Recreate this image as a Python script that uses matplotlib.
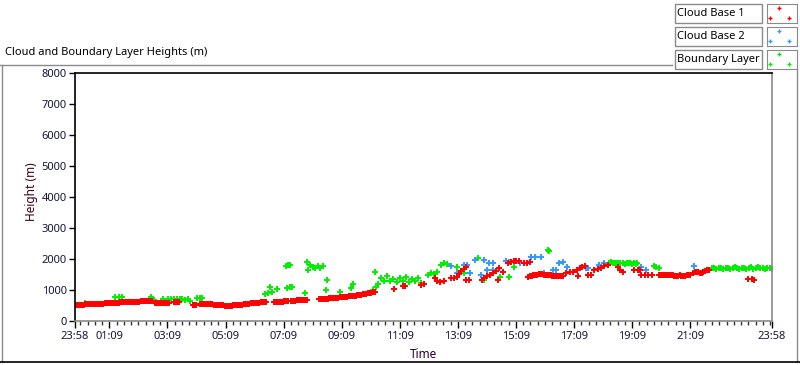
import matplotlib
matplotlib.use("Agg")
import matplotlib.pyplot as plt
from matplotlib.lines import Line2D
from matplotlib.patches import Rectangle

plt.rcParams['font.family'] = ['Noto Sans', 'DejaVu Sans']

# ---------------- data (hours after 23:58, height in m) ----------------
red_t = [0, 0.06, 0.12, 0.18, 0.24, 0.3, 0.36, 0.42, 0.48, 0.54, 0.6, 0.66, 0.72, 0.78,
         0.84, 0.9, 0.96, 1.02, 1.08, 1.14, 1.2, 1.26, 1.32, 1.38, 1.44,
         1.5, 1.56, 1.62, 1.68, 1.74, 1.8, 1.86, 1.92, 1.98, 2.04, 2.1, 2.16, 2.22,
         2.28, 2.34, 2.4, 2.46, 2.52, 2.58, 2.64,
         2.75, 2.81, 2.87, 2.93, 2.99, 3.05, 3.11, 3.17, 3.23,
         3.4, 3.46, 3.52, 3.58, 4.05, 4.11, 4.17,
         4.31, 4.37, 4.43, 4.49, 4.55, 4.61, 4.67, 4.73, 4.79, 4.85, 4.91, 4.97, 5.03,
         5.09, 5.15, 5.21, 5.27, 5.33, 5.39,
         5.45, 5.51, 5.57, 5.63, 5.69, 5.75, 5.81, 5.87, 5.93, 5.99, 6.05, 6.11, 6.17,
         6.23, 6.29, 6.35, 6.41, 6.47, 6.53, 6.59,
         6.85, 6.91, 6.97, 7.03, 7.09, 7.15, 7.21, 7.27, 7.33,
         7.45, 7.51, 7.57, 7.63, 7.69, 7.75, 7.81, 7.87, 7.93, 7.99,
         8.4, 8.46, 8.52, 8.58, 8.64, 8.7, 8.76, 8.82, 8.88, 8.94, 9.0, 9.06, 9.12,
         9.18, 9.24, 9.3, 9.36, 9.42, 9.48,
         9.54, 9.6, 9.66, 9.72, 9.78, 9.84, 9.9, 9.96, 10.02, 10.08, 10.14, 10.2,
         10.26, 10.32,
         11.0, 11.28, 11.36, 11.9, 12.0,
         12.4, 12.48, 12.58, 12.7, 12.95, 13.05, 13.15, 13.22, 13.3, 13.38, 13.46,
         13.45, 13.55, 14.0, 14.1, 14.2, 14.3, 14.4, 14.5, 14.6, 14.55, 14.75,
         14.9, 15.0, 15.1, 15.2, 15.3, 15.45, 15.55, 15.65,
         15.6, 15.66, 15.72, 15.78, 15.84, 15.9, 15.96, 16.02, 16.08, 16.14, 16.2,
         16.26, 16.32, 16.38, 16.44, 16.5, 16.56, 16.62, 16.68, 16.74, 16.8,
         16.92, 17.04, 17.16, 17.28, 17.38, 17.32, 17.45, 17.57, 17.65, 17.77,
         17.88, 18.0, 18.12, 18.22, 18.34, 18.7, 18.78, 18.86,
         19.25, 19.37, 19.47, 19.5, 19.62, 19.74, 19.86,
         20.1, 20.16, 20.22, 20.28, 20.34, 20.4, 20.46, 20.52, 20.58, 20.64, 20.7,
         20.76, 20.82, 20.88, 20.94, 21.0, 21.06, 21.12, 21.18,
         21.28, 21.34, 21.4, 21.46, 21.52, 21.58, 21.64, 21.7, 21.76, 21.82,
         23.18, 23.3, 23.38]
red_v = [520, 520, 522, 525, 528, 530, 533, 536, 540, 542, 545, 548, 552, 555,
         558, 560, 563, 565, 568, 570, 573, 575, 578, 582, 585,
         595, 600, 600, 603, 605, 608, 610, 612, 615, 618, 620, 625, 628,
         630, 632, 635, 638, 640, 645, 648,
         590, 588, 586, 584, 582, 580, 578, 577, 580,
         600, 600, 602, 605, 520, 522, 525,
         540, 540, 540, 538, 537, 535, 535, 533, 530, 528, 525, 522, 520,
         505, 500, 495, 490, 492, 495,
         505, 510, 515, 520, 525, 530, 535, 540, 548, 555, 565, 570, 575,
         580, 585, 592, 600, 605, 610, 620,
         615, 617, 620, 622, 625, 627, 630, 630, 632,
         655, 658, 660, 665, 670, 672, 675, 680, 680, 682,
         710, 712, 715, 718, 720, 725, 730, 735, 740, 745, 750, 755, 760,
         768, 775, 780, 785, 792, 800,
         805, 810, 820, 830, 840, 850, 860, 870, 880, 890, 900, 915,
         925, 935,
         1030, 1120, 1140, 1170, 1180,
         1380, 1300, 1270, 1290, 1380, 1400, 1430, 1520, 1600, 1680, 1740,
         1320, 1330, 1320, 1380, 1440, 1500, 1560, 1620, 1700, 1320, 1580,
         1870, 1900, 1920, 1940, 1940, 1880, 1860, 1900,
         1430, 1440, 1460, 1470, 1490, 1500, 1510, 1510, 1505, 1500, 1490,
         1480, 1475, 1470, 1465, 1460, 1455, 1450, 1450, 1452, 1460,
         1550, 1570, 1590, 1660, 1700, 1450, 1740, 1790, 1490, 1470,
         1650, 1680, 1710, 1780, 1800, 1740, 1660, 1580,
         1650, 1650, 1660, 1480, 1480, 1490, 1480,
         1500, 1500, 1500, 1495, 1490, 1485, 1480, 1475, 1470, 1465, 1460,
         1465, 1470, 1465, 1460, 1465, 1470, 1475, 1480,
         1560, 1565, 1570, 1565, 1560, 1550, 1590, 1610, 1630, 1650,
         1370, 1340, 1320]

blue_t = [12.94, 13.15, 13.38, 13.5, 13.6, 13.79, 13.97, 14.07, 14.2, 14.24, 14.4, 14.41,
          14.83, 14.93, 15.34, 15.55, 15.7, 15.85, 16.03, 16.14, 16.45, 16.55, 16.66,
          16.8, 16.95, 17.6, 17.66, 18.03, 18.2, 19.48, 19.65, 21.31]
blue_v = [1780, 1550, 1800, 1800, 1550, 1970, 1480, 1970, 1650, 1870, 1870, 1650,
          1950, 1900, 1880, 1880, 2070, 2080, 2060, 1550, 1650, 1650, 1860,
          1890, 1740, 1710, 1720, 1820, 1860, 1740, 1650, 1770]

green_t = [0.34, 1.38, 1.5, 1.62, 2.62, 2.72, 3.03, 3.2, 3.3, 3.4, 3.5, 3.6, 3.7, 3.8,
           3.9, 3.97, 4.2, 4.3, 4.38, 6.55, 6.65, 6.72, 6.8, 6.97, 7.28, 7.35, 7.41,
           7.3, 7.42, 7.48, 7.93, 8.0, 8.03, 8.1, 8.2, 8.28, 8.38, 8.45, 8.55, 8.69,
           8.65, 9.14, 9.5, 9.57, 10.25, 10.35, 10.34, 10.45, 10.55, 10.65, 10.75,
           10.85, 10.95, 11.1, 11.2, 11.3, 11.4, 11.5, 11.6, 11.7, 11.8, 11.9,
           12.14, 12.25, 12.35, 12.45, 12.6, 12.7, 12.8, 13.17, 13.38, 13.86, 14.07,
           14.62, 14.93, 15.1, 16.28, 16.32,
           18.4, 18.46, 18.52, 18.58, 18.64, 18.7, 18.76, 18.88, 18.94, 19.0, 19.06,
           19.12, 19.18, 19.24, 19.3, 19.36,
           19.92, 20.0, 20.1,
           21.92, 22.0, 22.08, 22.16, 22.24, 22.32, 22.4, 22.48, 22.56, 22.64, 22.72,
           22.8, 22.88, 22.96, 23.04, 23.12, 23.2, 23.28, 23.36, 23.44, 23.52, 23.6,
           23.68, 23.76, 23.84, 23.92, 24.0]
green_v = [580, 775, 775, 770, 770, 690, 710, 700, 720, 710, 700, 720, 700, 690,
           700, 650, 740, 745, 740, 860, 900, 1100, 930, 1030, 1790, 1820, 1800,
           1080, 1100, 1100, 900, 1900, 1650, 1800, 1740, 1710, 1780, 1710, 1770, 1320,
           1000, 940, 1050, 1180, 1000, 1100, 1580, 1200, 1380, 1300, 1450,
           1280, 1350, 1250, 1380, 1300, 1420, 1250, 1350, 1300, 1400, 1240,
           1500, 1560, 1520, 1580, 1820, 1880, 1850, 1740, 1550, 2030, 1320,
           1420, 1420, 1740, 2290, 2250,
           1880, 1890, 1870, 1880, 1860, 1870, 1880, 1860, 1850, 1870, 1860,
           1870, 1850, 1860, 1850, 1860,
           1780, 1740, 1720,
           1720, 1700, 1690, 1710, 1700, 1680, 1720, 1700, 1690, 1700, 1740,
           1710, 1690, 1700, 1720, 1680, 1700, 1730, 1690, 1700, 1740, 1710,
           1700, 1680, 1720, 1700, 1690]

series_names = ["Cloud Base 1", "Cloud Base 2", "Boundary Layer"]
series_colors = ["#ff0000", "#3399ff", "#00ee00"]

x_major = [0, 71/60, 71/60 + 2, 71/60 + 4, 71/60 + 6, 71/60 + 8, 71/60 + 10,
           71/60 + 12, 71/60 + 14, 71/60 + 16, 71/60 + 18, 71/60 + 20, 24]
x_labels = ["23:58", "01:09", "03:09", "05:09", "07:09", "09:09", "11:09",
            "13:09", "15:09", "17:09", "19:09", "21:09", "23:58"]
y_ticks = [0, 1000, 2000, 3000, 4000, 5000, 6000, 7000, 8000]

# ---------------- figure ----------------
W, H = 800, 365
fig = plt.figure(figsize=(W / 100, H / 100), dpi=100)
fig.patch.set_facecolor("white")


def fx(x):
    return x / W


def fy(y):
    return 1 - y / H


ax = fig.add_axes([fx(75), fy(321), fx(772 - 75), (321 - 73) / H])
ax.set_xlim(0, 24)
ax.set_ylim(0, 8000)

mk = dict(linestyle="none", marker="+", markersize=3.8, markeredgewidth=1.4)
ax.plot(green_t, green_v, color=series_colors[2], **mk)
ax.plot(blue_t, blue_v, color=series_colors[1], **mk)
ax.plot(red_t, red_v, color=series_colors[0], **mk)

lab_col = "#16163a"
ax.set_xticks(x_major)
ax.set_xticklabels(x_labels)
minor = [0.0] + [71/60 + 0.25 * k for k in range(-4, 92) if 0 < 71/60 + 0.25 * k < 24]
ax.set_xticks(minor, minor=True)
ax.set_yticks(y_ticks)
ax.tick_params(axis="x", which="major", length=5, width=1, color="black",
               labelsize=8, labelcolor=lab_col, pad=2)
ax.tick_params(axis="x", which="minor", length=3, width=1, color="#333333")
ax.tick_params(axis="y", which="major", length=4, width=1, color="black",
               labelsize=8, labelcolor=lab_col, pad=2)

for s in ["left", "top"]:
    ax.spines[s].set_color("black")
    ax.spines[s].set_linewidth(1.2)
for s in ["right", "bottom"]:
    ax.spines[s].set_color("#8a8a8a")
    ax.spines[s].set_linewidth(1.2)

fig.text(fx(32), fy(192), "Height (m)", rotation=90, ha="center", va="center",
         fontsize=8.5, color="#3a0018")
fig.text(fx(423), fy(354), "Time", ha="center", va="center",
         fontsize=8.5, color="#2a0030")
fig.text(fx(5), fy(53), "Cloud and Boundary Layer Heights (m)", ha="left",
         va="center", fontsize=8, color="black")

# outer frame
fig.add_artist(Line2D([fx(0), fx(672)], [fy(65), fy(65)], color="#8a8a8a", lw=1,
                      transform=fig.transFigure))
fig.add_artist(Line2D([fx(1.5), fx(1.5)], [fy(65), fy(362)], color="#8a8a8a", lw=1,
                      transform=fig.transFigure))
fig.add_artist(Line2D([fx(797), fx(797)], [fy(69), fy(362)], color="#8a8a8a", lw=1,
                      transform=fig.transFigure))
fig.add_artist(Line2D([fx(0), fx(800)], [fy(362), fy(362)], color="black", lw=1.2,
                      transform=fig.transFigure))

# custom legend
for i, (name, col) in enumerate(zip(series_names, series_colors)):
    top = 4 + 23 * i
    fig.add_artist(Rectangle((fx(675), fy(top + 19)), fx(87), 19 / H,
                             transform=fig.transFigure, facecolor="white",
                             edgecolor="#8a8a8a", lw=1))
    fig.text(fx(677), fy(top + 9.5), name, ha="left", va="center",
             fontsize=8, color="black")
    sw = fig.add_axes([fx(767), fy(top + 19), fx(30), 19 / H])
    sw.set_xlim(0, 1)
    sw.set_ylim(0, 1)
    sw.plot([0.4, 0.1, 0.73], [0.8, 0.28, 0.28], color=col, linestyle="none",
            marker="+", markersize=3, markeredgewidth=1.0)
    sw.set_xticks([])
    sw.set_yticks([])
    for s in sw.spines.values():
        s.set_color("#8a8a8a")

fig.savefig("out.png", dpi=100)
